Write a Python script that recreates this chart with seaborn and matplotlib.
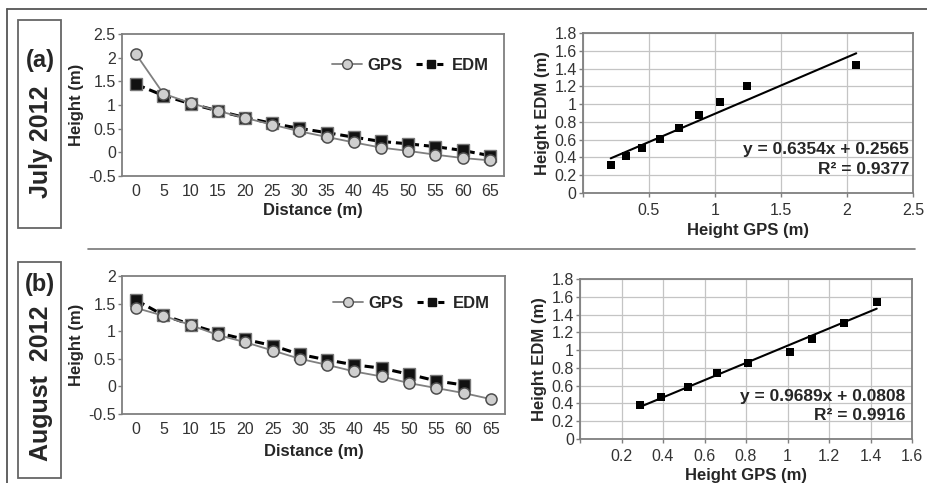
import numpy as np
import pandas as pd
import matplotlib
matplotlib.use("Agg")
import matplotlib.pyplot as plt
from matplotlib.lines import Line2D
from matplotlib.patches import Rectangle
import seaborn as sns

# ---------------- data ----------------
distance = [0, 5, 10, 15, 20, 25, 30, 35, 40, 45, 50, 55, 60, 65]

gps_jul = [2.07, 1.24, 1.04, 0.876, 0.727, 0.586, 0.444, 0.326, 0.21, 0.10, 0.03, -0.05, -0.12, -0.17]
edm_jul = [1.436, 1.20, 1.027, 0.877, 0.735, 0.611, 0.506, 0.416, 0.32, 0.23, 0.18, 0.12, 0.04, -0.07]

gps_aug = [1.42, 1.28, 1.11, 0.93, 0.80, 0.65, 0.50, 0.39, 0.27, 0.18, 0.06, -0.03, -0.12, -0.23]
edm_aug = [1.56, 1.29, 1.12, 0.97, 0.85, 0.74, 0.58, 0.48, 0.39, 0.33, 0.22, 0.10, 0.025, np.nan]

scat_gps_jul = gps_jul[:9]
scat_edm_jul = edm_jul[:9]
scat_gps_aug = [1.43, 1.27, 1.12, 1.01, 0.81, 0.66, 0.52, 0.39, 0.29]
scat_edm_aug = [1.545, 1.30, 1.13, 0.98, 0.86, 0.745, 0.59, 0.476, 0.38]

fit_jul = (0.6354, 0.2565, 0.9377)
fit_aug = (0.9689, 0.0808, 0.9916)

panel_labels = ["(a)", "(b)"]
period_labels = ["July 2012", "August  2012"]

# ---------------- style ----------------
sns.set_style("white")
plt.rcParams["font.family"] = ["Liberation Sans", "DejaVu Sans"]
plt.rcParams["axes.edgecolor"] = "#7f7f7f"
plt.rcParams["axes.linewidth"] = 1.3

fig = plt.figure(figsize=(9.27, 4.83), dpi=100)
W, H = 927, 483


def axes_px(x0, y0, x1, y1):
    return fig.add_axes([x0 / W, 1 - y1 / H, (x1 - x0) / W, (y1 - y0) / H])


TICK_COLOR = "#333333"


def line_panel(ax, gps, edm, ylim, yticks, legend_y, labelpad_x):
    df = pd.DataFrame({"Distance": distance, "GPS": gps, "EDM": edm})
    sns.lineplot(data=df, x="Distance", y="EDM", ax=ax, color="black",
                 linestyle=(0, (3, 1.6)), linewidth=2.2, marker="s", markersize=8.5,
                 markerfacecolor="#111111", markeredgecolor="#777777",
                 markeredgewidth=1.0, label="EDM")
    sns.lineplot(data=df, x="Distance", y="GPS", ax=ax, color="#808080",
                 linewidth=1.3, marker="o", markersize=8,
                 markerfacecolor="#cfcfcf", markeredgecolor="#4d4d4d",
                 markeredgewidth=1.1, label="GPS")
    ax.set_xlim(-2.6, 67.6)
    ax.set_ylim(*ylim)
    ax.set_xticks(distance)
    ax.set_yticks(yticks)
    ax.set_yticklabels([f"{v:g}" for v in yticks])
    ax.tick_params(axis="x", length=0, pad=6, labelsize=11.5, labelcolor=TICK_COLOR)
    ax.tick_params(axis="y", length=3, width=1, direction="out", color="#7f7f7f",
                   pad=1.5, labelsize=11.5, labelcolor=TICK_COLOR, left=True)
    ax.set_xlabel("Distance (m)", fontsize=12, fontweight="bold", labelpad=labelpad_x)
    ax.set_ylabel("Height (m)", fontsize=12, fontweight="bold", labelpad=3)
    h_gps = Line2D([], [], color="#808080", lw=1.3, marker="o", markersize=7,
                   markerfacecolor="#cfcfcf", markeredgecolor="#4d4d4d")
    h_edm = Line2D([], [], color="black", lw=2.2, linestyle=(0, (2, 1.4)), marker="s",
                   markersize=6, markerfacecolor="#111111", markeredgecolor="#111111")
    ax.legend([h_gps, h_edm], ["GPS", "EDM"], loc="center right",
              bbox_to_anchor=(1.0, legend_y), ncol=2, frameon=False,
              prop={"weight": "bold", "size": 12}, handlelength=1.8,
              handletextpad=0.35, columnspacing=0.8)


def scatter_panel(ax, xs, ys, fit, xlim, xticks, eq_pos, labelpad_x):
    slope, icpt, r2 = fit
    ax.grid(True, color="#c4c4c4", linewidth=0.9)
    ax.set_axisbelow(True)
    sns.scatterplot(x=xs, y=ys, ax=ax, marker="s", s=38, color="black",
                    edgecolor="black", linewidth=0, zorder=3)
    xr = np.array([min(xs), max(xs)])
    sns.lineplot(x=xr, y=slope * xr + icpt, ax=ax, color="black", linewidth=1.5,
                 zorder=2)
    ax.set_xlim(*xlim)
    ax.set_ylim(0, 1.8)
    ax.set_xticks(xticks)
    ax.set_xticklabels(["" if v == 0 else f"{v:g}" for v in xticks])
    yt = [0, 0.2, 0.4, 0.6, 0.8, 1.0, 1.2, 1.4, 1.6, 1.8]
    ax.set_yticks(yt)
    ax.set_yticklabels([f"{v:g}" for v in yt])
    ax.tick_params(axis="both", length=3, width=1, direction="out", color="#7f7f7f",
                   labelsize=11.5, labelcolor=TICK_COLOR, left=True, bottom=True)
    ax.tick_params(axis="y", pad=1.5)
    ax.tick_params(axis="x", pad=4)
    ax.set_xlabel("Height GPS (m)", fontsize=12, fontweight="bold", labelpad=labelpad_x)
    ax.set_ylabel("Height EDM (m)", fontsize=12, fontweight="bold", labelpad=3)
    ex, ey1, ey2 = eq_pos
    ax.text(ex, ey1, f"y = {slope:.4f}x + {icpt:.4f}", transform=ax.transAxes,
            ha="right", va="center", fontsize=12.5, fontweight="bold")
    ax.text(ex, ey2, f"R\u00b2 = {r2:.4f}", transform=ax.transAxes,
            ha="right", va="center", fontsize=12.5, fontweight="bold")


# ---- top row ----
ax1 = axes_px(122, 34, 504, 176)
line_panel(ax1, gps_jul, edm_jul, (-0.5, 2.5), [-0.5, 0, 0.5, 1, 1.5, 2, 2.5], 0.78, 3)

ax2 = axes_px(583, 33, 913, 193)
scatter_panel(ax2, scat_gps_jul, scat_edm_jul, fit_jul, (0, 2.5),
              [0, 0.5, 1.0, 1.5, 2.0, 2.5], (0.988, 0.27, 0.145), 4)

# ---- bottom row ----
ax3 = axes_px(122, 276, 505, 414)
line_panel(ax3, gps_aug, edm_aug, (-0.5, 2.0), [-0.5, 0, 0.5, 1, 1.5, 2], 0.80, 5)

ax4 = axes_px(580, 279, 912, 439)
scatter_panel(ax4, scat_gps_aug, scat_edm_aug, fit_aug, (0, 1.6),
              [0, 0.2, 0.4, 0.6, 0.8, 1.0, 1.2, 1.4, 1.6], (0.979, 0.265, 0.15), 3)

# ---- frame, separator, side labels ----
fig.add_artist(Line2D([7 / W, 1], [1 - 9 / H, 1 - 9 / H], transform=fig.transFigure,
                      color="#555555", lw=1.3))
fig.add_artist(Line2D([7 / W, 7 / W], [0, 1 - 9 / H], transform=fig.transFigure,
                      color="#555555", lw=1.3))
fig.add_artist(Line2D([88 / W, 915 / W], [1 - 249 / H, 1 - 249 / H],
                      transform=fig.transFigure, color="#777777", lw=1.2))

boxes = [(20, 228, 60, 142), (262, 478, 284, 383)]
for (top, bot, ylab, yper), plab, per in zip(boxes, panel_labels, period_labels):
    fig.add_artist(Rectangle((18 / W, 1 - bot / H), 43 / W, (bot - top) / H,
                             transform=fig.transFigure, fill=False,
                             edgecolor="#666666", lw=1.3))
    fig.text(40 / W, 1 - ylab / H, plab, ha="center", va="center",
             fontsize=17, fontweight="bold")
    fig.text(41 / W, 1 - yper / H, per, ha="center", va="center", rotation=90,
             fontsize=18, fontweight="bold")

fig.savefig("out.png", dpi=100)
